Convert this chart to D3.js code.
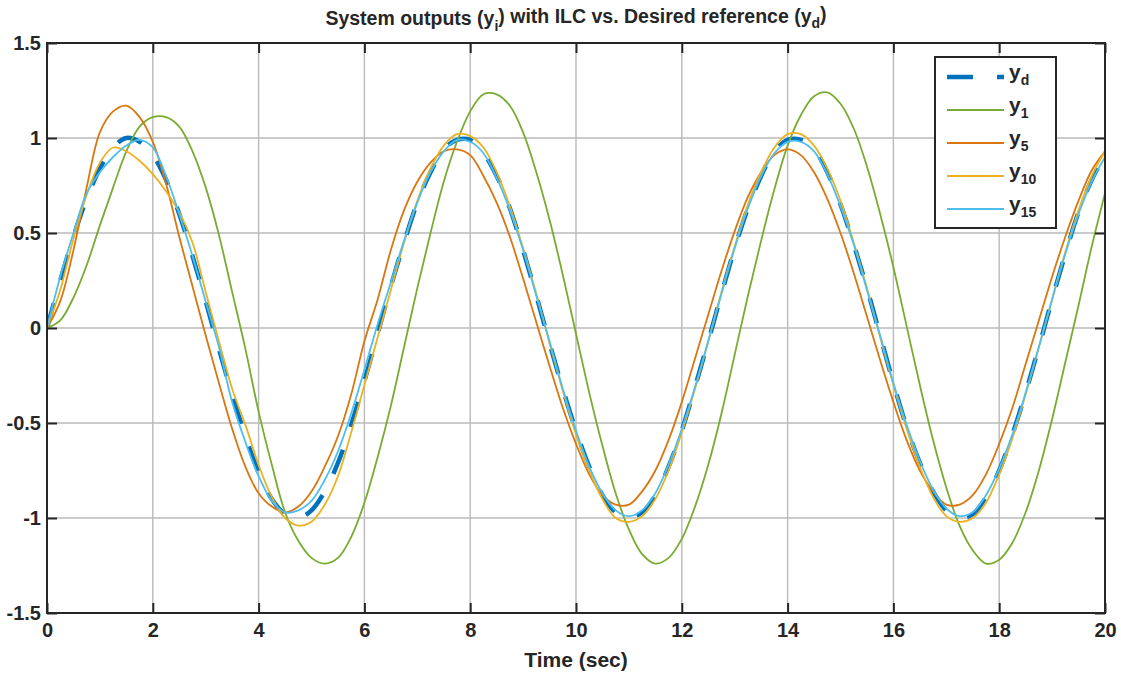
<!DOCTYPE html>
<html>
<head>
<meta charset="utf-8">
<title>ILC outputs</title>
<script src="https://cdn.jsdelivr.net/npm/d3@7"></script>
<style>
  body { margin: 0; background: #fff; }
  text { font-family: "Liberation Sans", Arial, Helvetica, sans-serif; font-weight: bold; fill: #262626; }
</style>
</head>
<body>
<script>
// sample grid, 0..20 s every 0.25 s
let time = d3.range(0, 20.001, 0.25)

// values, 4 samples per second
let yd = [
  0, 0.25, 0.48, 0.68,   0.84, 0.95, 1.00, 0.98,   0.91, 0.78, 0.60, 0.38,
  0.14, -0.11, -0.35, -0.57,   -0.76, -0.90, -0.98, -1.00,   -0.96, -0.86, -0.71, -0.51,
  -0.28, -0.03, 0.22, 0.45,   0.66, 0.82, 0.94, 0.99,   0.99, 0.92, 0.80, 0.63,
  0.41, 0.17, -0.08, -0.32,   -0.54, -0.73, -0.88, -0.97,   -1.00, -0.97, -0.88, -0.73,
  -0.54, -0.31, -0.07, 0.18,   0.42, 0.63, 0.80, 0.93,   0.99, 0.99, 0.94, 0.82,
  0.65, 0.44, 0.21, -0.04,   -0.29, -0.52, -0.71, -0.86,   -0.96, -1.00, -0.98, -0.89,
  -0.75, -0.56, -0.34, -0.10,   0.15, 0.39, 0.61, 0.78,   0.91]
let y1 = [
  0, 0.04, 0.16, 0.33,   0.54, 0.74, 0.93, 1.06,   1.11, 1.11, 1.06, 0.93,
  0.74, 0.49, 0.19, -0.11,   -0.44, -0.72, -0.97, -1.12,   -1.21, -1.24, -1.21, -1.10,
  -0.92, -0.68, -0.41, -0.10,   0.21, 0.50, 0.77, 0.98,   1.14, 1.23, 1.23, 1.17,
  1.03, 0.82, 0.57, 0.28,   -0.03, -0.34, -0.62, -0.87,   -1.06, -1.19, -1.24, -1.21,
  -1.11, -0.94, -0.72, -0.45,   -0.14, 0.17, 0.46, 0.73,   0.96, 1.12, 1.22, 1.24,
  1.18, 1.05, 0.85, 0.60,   0.32, 0.01, -0.30, -0.59,   -0.84, -1.04, -1.17, -1.24,
  -1.22, -1.13, -0.97, -0.75,   -0.48, -0.18, 0.12, 0.43,   0.71]
let y5 = [
  0, 0.14, 0.41, 0.74,   1.03, 1.14, 1.17, 1.11,   0.98, 0.76, 0.48, 0.22,
  -0.04, -0.29, -0.53, -0.73,   -0.87, -0.94, -0.97, -0.94,   -0.86, -0.73, -0.57, -0.35,
  -0.07, 0.15, 0.41, 0.62,   0.77, 0.87, 0.93, 0.94,   0.91, 0.80, 0.66, 0.48,
  0.26, 0.03, -0.20, -0.42,   -0.61, -0.77, -0.88, -0.93,   -0.93, -0.86, -0.75, -0.59,
  -0.39, -0.16, 0.07, 0.30,   0.51, 0.69, 0.82, 0.91,   0.94, 0.91, 0.82, 0.68,
  0.50, 0.29, 0.06, -0.17,   -0.39, -0.59, -0.75, -0.86,   -0.93, -0.93, -0.88, -0.77,
  -0.61, -0.42, -0.19, 0.04,   0.27, 0.48, 0.67, 0.83,   0.93]
let y10 = [
  0, 0.20, 0.47, 0.70,   0.87, 0.95, 0.93, 0.88,   0.81, 0.72, 0.61, 0.45,
  0.19, -0.07, -0.32, -0.51,   -0.72, -0.89, -1.00, -1.04,   -1.02, -0.93, -0.78, -0.55,
  -0.30, -0.05, 0.20, 0.45,   0.67, 0.84, 0.96, 1.02,   1.01, 0.95, 0.82, 0.64,
  0.42, 0.18, -0.08, -0.33,   -0.56, -0.75, -0.90, -1.00,   -1.02, -0.99, -0.90, -0.75,
  -0.55, -0.32, -0.07, 0.19,   0.43, 0.65, 0.82, 0.95,   1.02, 1.02, 0.96, 0.84,
  0.67, 0.45, 0.21, -0.05,   -0.30, -0.53, -0.73, -0.89,   -0.99, -1.02, -1.00, -0.92,
  -0.77, -0.58, -0.35, -0.10,   0.15, 0.40, 0.62, 0.80,   0.93]
let y15 = [
  0, 0.27, 0.50, 0.71,   0.82, 0.90, 0.96, 0.99,   0.95, 0.80, 0.60, 0.38,
  0.14, -0.10, -0.39, -0.60,   -0.78, -0.91, -0.97, -0.96,   -0.91, -0.80, -0.65, -0.45,
  -0.22, 0.02, 0.24, 0.46,   0.66, 0.82, 0.93, 0.99,   0.98, 0.92, 0.79, 0.62,
  0.41, 0.17, -0.07, -0.32,   -0.54, -0.73, -0.87, -0.96,   -0.99, -0.96, -0.87, -0.72,
  -0.53, -0.31, -0.07, 0.18,   0.42, 0.63, 0.80, 0.92,   0.98, 0.98, 0.93, 0.81,
  0.64, 0.44, 0.20, -0.04,   -0.29, -0.51, -0.70, -0.85,   -0.95, -0.99, -0.97, -0.88,
  -0.74, -0.56, -0.34, -0.10,   0.15, 0.39, 0.60, 0.77,   0.90]

let names = ["d", "1", "5", "10", "15"]
let colors = ["#0072BD", "#77AC30", "#D9760F", "#EDB120", "#4DBEEE"]
let xTicks = [0, 2, 4, 6, 8, 10, 12, 14, 16, 18, 20]
let yTicks = [-1.5, -1, -0.5, 0, 0.5, 1, 1.5]

let w = 1121
let h = 677
let pLeft = 47, pRight = 1105, pTop = 43, pBottom = 613

let svg = d3.select("body").append("svg")
            .attr("width", w)
            .attr("height", h)

let x_scale = d3.scaleLinear().domain([0, 20]).range([pLeft, pRight])
let y_scale = d3.scaleLinear().domain([-1.5, 1.5]).range([pBottom, pTop])

// grid
svg.append("g").selectAll("line").data(xTicks.slice(1, -1)).enter()
   .append("line")
   .attr("x1", d => x_scale(d)).attr("x2", d => x_scale(d))
   .attr("y1", pTop).attr("y2", pBottom)
   .attr("stroke", "#bababa").attr("stroke-width", 1.4)
svg.append("g").selectAll("line").data(yTicks.slice(1, -1)).enter()
   .append("line")
   .attr("y1", d => y_scale(d)).attr("y2", d => y_scale(d))
   .attr("x1", pLeft).attr("x2", pRight)
   .attr("stroke", "#bababa").attr("stroke-width", 1.4)

// curves
svg.append("clipPath").attr("id", "plotclip")
   .append("rect").attr("x", pLeft).attr("y", pTop)
   .attr("width", pRight - pLeft).attr("height", pBottom - pTop)

let series = [yd, y1, y5, y10, y15]
let line = d3.line()
             .x((d, i) => x_scale(time[i]))
             .y(d => y_scale(d))
             .curve(d3.curveCatmullRom.alpha(0.5))

let plot = svg.append("g").attr("clip-path", "url(#plotclip)")
for (let i = 0; i < series.length; i++) {
    let p = plot.append("path")
                .attr("d", line(series[i]))
                .attr("fill", "none")
                .attr("stroke", colors[i])
    if (i === 0) {
        p.attr("stroke-width", 4.5).attr("stroke-dasharray", "26,24")
    } else {
        p.attr("stroke-width", 1.8)
    }
}

// axes, ticks pointing inward on all four sides
let fmt = d => String(d)
let xb = d3.axisBottom(x_scale).tickValues(xTicks).tickSizeInner(-10).tickSizeOuter(0).tickPadding(10).tickFormat(fmt)
let xt = d3.axisTop(x_scale).tickValues(xTicks).tickSizeInner(-10).tickSizeOuter(0).tickFormat("")
let yl = d3.axisLeft(y_scale).tickValues(yTicks).tickSizeInner(-10).tickSizeOuter(0).tickPadding(6).tickFormat(fmt)
let yr = d3.axisRight(y_scale).tickValues(yTicks).tickSizeInner(-10).tickSizeOuter(0).tickFormat("")

let axes = [
    svg.append("g").attr("transform", "translate(0," + pBottom + ")").call(xb),
    svg.append("g").attr("transform", "translate(0," + pTop + ")").call(xt),
    svg.append("g").attr("transform", "translate(" + pLeft + ",0)").call(yl),
    svg.append("g").attr("transform", "translate(" + pRight + ",0)").call(yr)
]
axes.forEach(a => {
    a.select(".domain").remove()
    a.selectAll(".tick line").attr("stroke", "#262626").attr("stroke-width", 2)
    a.selectAll(".tick text").attr("font-size", 20).attr("fill", "#262626")
       .style("font-family", "'Liberation Sans', Arial, sans-serif").style("font-weight", "bold")
})

svg.append("rect")
   .attr("x", pLeft).attr("y", pTop)
   .attr("width", pRight - pLeft).attr("height", pBottom - pTop)
   .attr("fill", "none").attr("stroke", "#262626").attr("stroke-width", 2)

// title and axis label
let title = svg.append("text")
               .attr("x", (pLeft + pRight) / 2).attr("y", 25)
               .attr("text-anchor", "middle").attr("font-size", 19.5)
title.append("tspan").text("System outputs (y")
title.append("tspan").attr("dy", "0.4em").attr("font-size", 14).text("i")
title.append("tspan").attr("dy", "-0.4em").text(") with ILC vs. Desired reference (y")
title.append("tspan").attr("dy", "0.4em").attr("font-size", 14).text("d")
title.append("tspan").attr("dy", "-0.4em").text(")")

svg.append("text")
   .attr("x", (pLeft + pRight) / 2).attr("y", 667)
   .attr("text-anchor", "middle").attr("font-size", 21)
   .text("Time (sec)")

// legend
let lg = svg.append("g")
lg.append("rect")
  .attr("x", 935).attr("y", 57).attr("width", 121).attr("height", 171)
  .attr("fill", "#fff").attr("stroke", "#262626").attr("stroke-width", 2)
let rowY = [77, 110, 143, 176, 209]
for (let i = 0; i < names.length; i++) {
    let l = lg.append("line")
              .attr("x1", 947).attr("x2", 1004)
              .attr("y1", rowY[i]).attr("y2", rowY[i])
              .attr("stroke", colors[i])
    if (i === 0) {
        l.attr("stroke-width", 4.5).attr("stroke-dasharray", "26,24")
    } else {
        l.attr("stroke-width", 1.8)
    }
    let t = lg.append("text").attr("x", 1009).attr("y", rowY[i] + 2).attr("font-size", 21)
    t.append("tspan").text("y")
    t.append("tspan").attr("dy", "0.4em").attr("font-size", 14).text(names[i])
}
</script>
</body>
</html>
